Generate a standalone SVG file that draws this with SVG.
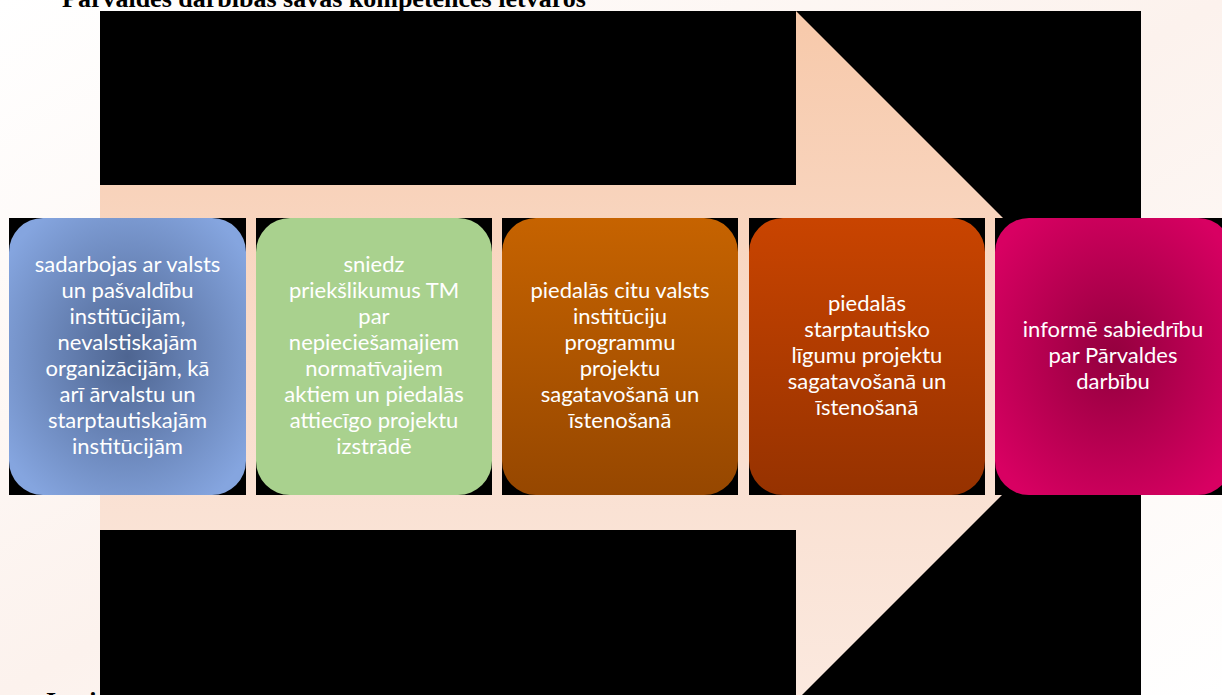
<svg xmlns="http://www.w3.org/2000/svg" width="1222" height="695" viewBox="0 0 1222 695">
<defs>
<linearGradient id="bg" x1="0" y1="0" x2="1" y2="1">
<stop offset="0" stop-color="#ffffff"/>
<stop offset="0.5" stop-color="#fcf2ed"/>
<stop offset="1" stop-color="#ffffff"/>
</linearGradient>
<linearGradient id="arrowFill" x1="0" y1="11" x2="0" y2="701" gradientUnits="userSpaceOnUse">
<stop offset="0" stop-color="#f7c9aa"/>
<stop offset="0.5" stop-color="#f9dccb"/>
<stop offset="1" stop-color="#fbe9df"/>
</linearGradient>
<radialGradient id="blue" cx="0.5" cy="0.5" r="0.62">
<stop offset="0" stop-color="#4e6591"/>
<stop offset="1" stop-color="#85a5df"/>
</radialGradient>
<linearGradient id="orange" x1="0" y1="0" x2="0" y2="1">
<stop offset="0" stop-color="#c66300"/>
<stop offset="1" stop-color="#964700"/>
</linearGradient>
<linearGradient id="rust" x1="0" y1="0" x2="0" y2="1">
<stop offset="0" stop-color="#c94400"/>
<stop offset="1" stop-color="#963200"/>
</linearGradient>
<radialGradient id="magenta" cx="0.5" cy="0.5" r="0.62">
<stop offset="0" stop-color="#93003e"/>
<stop offset="1" stop-color="#d80062"/>
</radialGradient>
</defs>
<style>
.lbl{font-family:Lato,"Open Sans","Noto Sans",sans-serif;font-size:22px;fill:#ffffff;text-anchor:middle}
.cut{font-family:"Liberation Serif","Times New Roman",serif;font-weight:bold;font-size:26px;fill:#000000}
.bk{fill:#000000}
</style>
<rect x="0" y="0" width="1222" height="695" fill="url(#bg)"/>
<text class="cut" x="62" y="7">Pārvaldes darbības savas kompetences ietvaros</text>
<text class="cut" x="46" y="710">Institūcijas</text>
<rect class="bk" x="100" y="11" width="1041" height="684"/>
<g id="arrow">
<path d="M100,185 L796,185 L796,11 L1141,356 L796,701 L796,530 L100,530 Z" fill="url(#arrowFill)"/>
</g>
<g id="connectors"></g>
<g id="node1">
<rect class="bk" x="9" y="218" width="237" height="277"/>
<rect x="9" y="218" width="237" height="277" rx="34" fill="url(#blue)"/>
<text class="lbl" x="127.5" y="272">sadarbojas ar valsts</text>
<text class="lbl" x="127.5" y="298">un pašvaldību</text>
<text class="lbl" x="127.5" y="324">institūcijām,</text>
<text class="lbl" x="127.5" y="350">nevalstiskajām</text>
<text class="lbl" x="127.5" y="376">organizācijām, kā</text>
<text class="lbl" x="127.5" y="402">arī ārvalstu un</text>
<text class="lbl" x="127.5" y="428">starptautiskajām</text>
<text class="lbl" x="127.5" y="454">institūcijām</text>
</g>
<g id="node2">
<rect class="bk" x="256" y="218" width="236" height="277"/>
<rect x="256" y="218" width="236" height="277" rx="34" fill="#a9d18e"/>
<text class="lbl" x="374" y="272">sniedz</text>
<text class="lbl" x="374" y="298">priekšlikumus TM</text>
<text class="lbl" x="374" y="324">par</text>
<text class="lbl" x="374" y="350">nepieciešamajiem</text>
<text class="lbl" x="374" y="376">normatīvajiem</text>
<text class="lbl" x="374" y="402">aktiem un piedalās</text>
<text class="lbl" x="374" y="428">attiecīgo projektu</text>
<text class="lbl" x="374" y="454">izstrādē</text>
</g>
<g id="node3">
<rect class="bk" x="502" y="218" width="236" height="277"/>
<rect x="502" y="218" width="236" height="277" rx="34" fill="url(#orange)"/>
<text class="lbl" x="620" y="298">piedalās citu valsts</text>
<text class="lbl" x="620" y="324">institūciju</text>
<text class="lbl" x="620" y="350">programmu</text>
<text class="lbl" x="620" y="376">projektu</text>
<text class="lbl" x="620" y="402">sagatavošanā un</text>
<text class="lbl" x="620" y="428">īstenošanā</text>
</g>
<g id="node4">
<rect class="bk" x="749" y="218" width="236" height="277"/>
<rect x="749" y="218" width="236" height="277" rx="34" fill="url(#rust)"/>
<text class="lbl" x="867" y="311">piedalās</text>
<text class="lbl" x="867" y="337">starptautisko</text>
<text class="lbl" x="867" y="363">līgumu projektu</text>
<text class="lbl" x="867" y="389">sagatavošanā un</text>
<text class="lbl" x="867" y="415">īstenošanā</text>
</g>
<g id="node5">
<rect class="bk" x="995" y="218" width="237" height="277"/>
<rect x="995" y="218" width="237" height="277" rx="34" fill="url(#magenta)"/>
<text class="lbl" x="1113" y="337">informē sabiedrību</text>
<text class="lbl" x="1113" y="363">par Pārvaldes</text>
<text class="lbl" x="1113" y="389">darbību</text>
</g>
</svg>
